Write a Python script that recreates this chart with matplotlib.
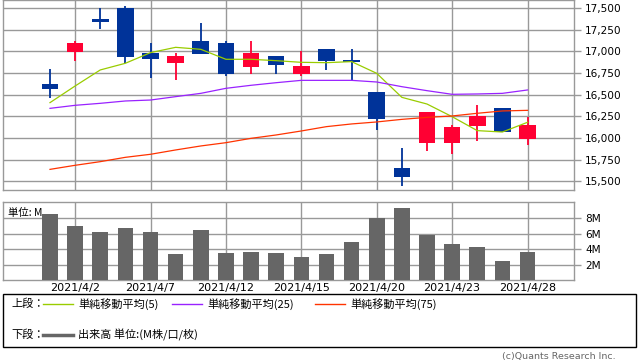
import matplotlib
matplotlib.use('Agg')
import matplotlib.pyplot as plt
from matplotlib.lines import Line2D
from matplotlib.patches import Rectangle
import numpy as np

plt.rcParams['font.family'] = ['DejaVu Sans', 'Noto Sans CJK JP']

# trading days, April 2021
dates = ['2021/4/1', '2021/4/2', '2021/4/5', '2021/4/6', '2021/4/7', '2021/4/8',
         '2021/4/9', '2021/4/12', '2021/4/13', '2021/4/14', '2021/4/15', '2021/4/16',
         '2021/4/19', '2021/4/20', '2021/4/21', '2021/4/22', '2021/4/23', '2021/4/26',
         '2021/4/27', '2021/4/28']
opens = [16623, 16996, 17369, 17500, 16981, 16869, 17119, 17096, 16823, 16946,
         16742, 17027, 16900, 16531, 15654, 15946, 15946, 16138, 16346, 15992]
highs = [16796, 17119, 17500, 17523, 17096, 16981, 17327, 17119, 17119, 16946,
         17000, 17027, 17027, 16531, 15888, 16300, 16146, 16381, 16346, 16242]
lows = [16462, 16888, 17258, 16862, 16696, 16669, 16973, 16715, 16742, 16742,
        16715, 16788, 16669, 16096, 15450, 15850, 15819, 15969, 16069, 15919]
closes = [16565, 17096, 17342, 16938, 16915, 16946, 16973, 16742, 16981, 16846,
          16831, 16888, 16873, 16223, 15554, 16300, 16127, 16250, 16069, 16150]
ma5 = [16408, 16600, 16785, 16862, 16985, 17046, 17023, 16908, 16908, 16892,
       16873, 16869, 16881, 16746, 16469, 16392, 16246, 16085, 16069, 16181]
ma25 = [16342, 16377, 16400, 16427, 16438, 16477, 16515, 16573, 16608, 16638,
        16665, 16665, 16665, 16646, 16592, 16546, 16504, 16508, 16515, 16554]
ma75 = [15638, 15685, 15727, 15777, 15812, 15862, 15908, 15946, 15996, 16035,
        16081, 16131, 16162, 16185, 16215, 16238, 16254, 16285, 16312, 16319]
volume = [8.54, 7.04, 6.17, 6.67, 6.17, 3.42, 6.42, 3.54, 3.67, 3.54,
          2.92, 3.42, 4.92, 8.04, 9.29, 5.79, 4.67, 4.29, 2.42, 3.67]  # M
tick_idx = [1, 4, 7, 10, 13, 16, 19]
price_ticks = list(range(15500, 17501, 250))
vol_ticks = [2, 4, 6, 8]

W, H = 638, 362
GRID = '#999999'
UP, DOWN = '#ff0033', '#003399'


def box(x0, y0, x1, y1):
    return [x0 / W, 1 - y1 / H, (x1 - x0) / W, (y1 - y0) / H]


fig = plt.figure(figsize=(W / 100, H / 100), dpi=100)

# ---- price panel
ax = fig.add_axes(box(3, 0, 574, 190))
x = np.arange(len(dates))
o, h, l, c = map(np.array, (opens, highs, lows, closes))
cols = [UP if cc >= oo else DOWN for oo, cc in zip(o, c)]
ax.vlines(x, l, h, colors=cols, linewidth=1.3, zorder=3)
ax.bar(x, np.maximum(np.abs(c - o), 8), bottom=np.minimum(o, c), width=0.66,
       color=cols, zorder=4)
ax.plot(x, ma5, color='#99cc00', lw=0.9, zorder=5)
ax.plot(x, ma25, color='#9922ff', lw=0.9, zorder=5)
ax.plot(x, ma75, color='#ff3300', lw=0.9, zorder=5)
ax.set_xlim(-1.87, 20.85)
ax.set_ylim(15400, 17592)
ax.set_yticks(price_ticks)
ax.set_yticklabels([f'{v:,}' for v in price_ticks], fontsize=7.6)
ax.set_xticks(tick_idx)
ax.set_xticklabels([])

# ---- volume panel
ax2 = fig.add_axes(box(3, 202, 574, 280))
ax2.bar(x, volume, width=0.62, color='#666666', zorder=3)
ax2.set_xlim(-1.87, 20.85)
ax2.set_ylim(0, 10.1)
ax2.set_yticks(vol_ticks)
ax2.set_yticklabels([f'{v}M' for v in vol_ticks], fontsize=7.6)
ax2.set_xticks(tick_idx)
ax2.set_xticklabels([dates[i] for i in tick_idx], fontsize=8)
ax2.text(0.008, 0.93, '単位: M', transform=ax2.transAxes, ha='left', va='top',
         fontsize=7.5, family=['Noto Sans CJK JP', 'DejaVu Sans'], zorder=5)

for a in (ax, ax2):
    a.grid(True, color=GRID, lw=1.0)
    a.set_axisbelow(True)
    for s in a.spines.values():
        s.set_color(GRID)
        s.set_linewidth(1.0)
    a.yaxis.tick_right()
    a.tick_params(axis='y', length=5, color=GRID, width=1.0, pad=3)
    a.tick_params(axis='x', length=0, pad=2)

# ---- legend box
fig.add_artist(Rectangle((3 / W, 1 - 347 / H), 633 / W, 53 / H, transform=fig.transFigure,
                         fill=False, edgecolor='black', lw=1.0))
jp = ['Noto Sans CJK JP', 'DejaVu Sans']


def fx(px):
    return px / W


def fy(py):
    return 1 - py / H


fig.text(fx(11), fy(304), '上段：', fontsize=8, va='center', family=jp)
fig.text(fx(11), fy(335), '下段：', fontsize=8, va='center', family=jp)
leg = [(43, '#99cc00', '単純移動平均(5)'), (172, '#9922ff', '単純移動平均(25)'),
       (315, '#ff3300', '単純移動平均(75)')]
for lx, col, lab in leg:
    fig.add_artist(Line2D([fx(lx), fx(lx + 30)], [fy(304), fy(304)], color=col, lw=1.0,
                          transform=fig.transFigure))
    fig.text(fx(lx + 35), fy(304), lab, fontsize=8, va='center', family=jp)
fig.add_artist(Line2D([fx(43), fx(73)], [fy(335), fy(335)], color='#666666', lw=2.5,
                      transform=fig.transFigure))
fig.text(fx(78), fy(335), '出来高 単位:(M株/口/枚)', fontsize=8, va='center', family=jp)

fig.text(fx(616), fy(357), '(c)Quants Research Inc.', fontsize=6.8, ha='right',
         va='center', color='#666666')

fig.savefig('out.png', dpi=100)
